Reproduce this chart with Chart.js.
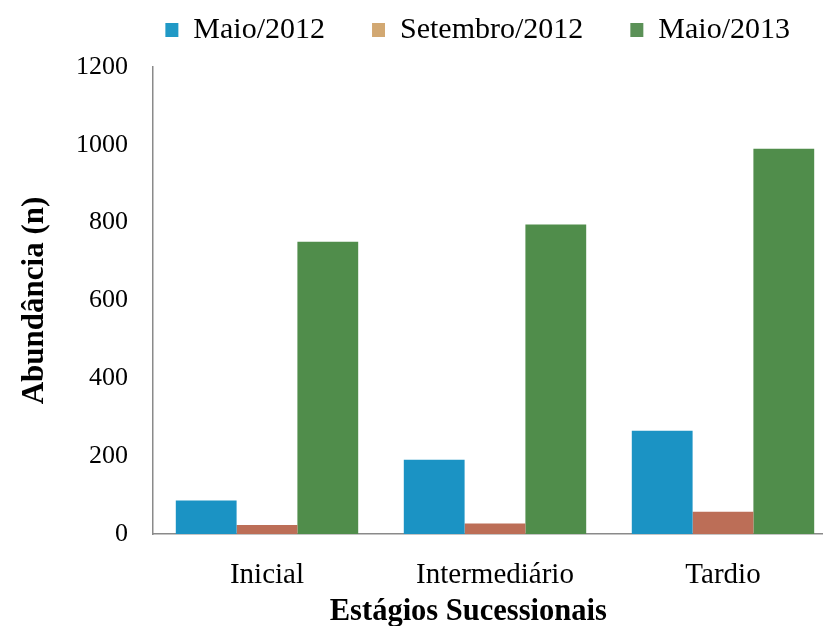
<!DOCTYPE html>
<html>
<head>
<meta charset="utf-8">
<script src="https://cdn.jsdelivr.net/npm/chart.js@4.4.1/dist/chart.umd.min.js"></script>
<style>
    html, body { margin: 0; padding: 0; background: #fff; overflow: hidden; }
    .chart-wrap { width: 842px; height: 626px; position: relative; }
</style>
</head>
<body>
<div class="chart-wrap"><canvas id="abundanceChart"></canvas></div>
<script>
// Dados do gráfico
const categories = ['Inicial', 'Intermediário', 'Tardio'];
const seriesNames = ['Maio/2012', 'Setembro/2012', 'Maio/2013'];
const maio2012 = [86, 191, 265];
const setembro2012 = [23, 27, 57];
const maio2013 = [751, 795, 990];
const yTicks = [0, 200, 400, 600, 800, 1000, 1200];

const barColors = ['#1b93c4', '#bc6e57', '#508d4b'];
const legendColors = ['#2099c6', '#d2a872', '#5b9157'];
const serif = "'Liberation Serif', 'Times New Roman', serif";

const chartData = {
    labels: categories,
    datasets: [maio2012, setembro2012, maio2013].map((values, i) => ({
        label: seriesNames[i],
        data: values,
        backgroundColor: barColors[i],
        borderWidth: 0,
        categoryPercentage: 0.8,
        barPercentage: 1.0
    }))
};

const chartOptions = {
    responsive: true,
    maintainAspectRatio: false,
    animation: false,
    layout: {
        padding: { top: -32, left: 18, right: 5, bottom: 0 }
    },
    plugins: {
        legend: {
            display: true,
            position: 'top',
            align: 'end',
            labels: {
                boxWidth: 13,
                boxHeight: 14,
                padding: 47,
                color: '#000',
                font: { family: serif, size: 30 },
                generateLabels: function (chart) {
                    const items = Chart.defaults.plugins.legend.labels.generateLabels(chart);
                    items.forEach((item, i) => {
                        item.fillStyle = legendColors[i];
                        item.strokeStyle = legendColors[i];
                        item.lineWidth = 0;
                    });
                    return items;
                }
            }
        },
        // espaçador entre a legenda e o gráfico
        title: {
            display: true,
            text: '',
            weight: 500,
            padding: 0,
            font: { size: 10, lineHeight: 1.2 }
        },
        tooltip: { enabled: false }
    },
    scales: {
        y: {
            min: 0,
            max: 1200,
            afterBuildTicks: function (axis) {
                axis.ticks = yTicks.map(v => ({ value: v }));
            },
            grid: { display: false, drawTicks: false },
            border: { display: true, color: '#8a8a8a', width: 1.5 },
            ticks: {
                padding: 25,
                color: '#000',
                font: { family: serif, size: 26 },
                callback: value => String(value)
            },
            title: {
                display: true,
                text: 'Abundância (n)',
                color: '#000',
                padding: { top: -1.6, bottom: -2.6 },
                font: { family: serif, size: 31, weight: 'bold', lineHeight: 1.2 }
            }
        },
        x: {
            grid: { display: false, drawTicks: false },
            border: { display: true, color: '#8a8a8a', width: 1.5 },
            ticks: {
                padding: 23.6,
                color: '#000',
                font: { family: serif, size: 29 }
            },
            title: {
                display: true,
                // espaços no fim deslocam o título um pouco para a esquerda, como no original
                text: 'Estágios Sucessionais\u00a0\u00a0\u00a0\u00a0\u00a0\u00a0\u00a0',
                color: '#000',
                padding: { top: -17.45, bottom: 0 },
                font: { family: serif, size: 30.5, weight: 'bold', lineHeight: 0.9 }
            }
        }
    }
};

const ctx = document.getElementById('abundanceChart').getContext('2d');
const abundanceChart = new Chart(ctx, {
    type: 'bar',
    data: chartData,
    options: chartOptions
});
</script>
</body>
</html>
